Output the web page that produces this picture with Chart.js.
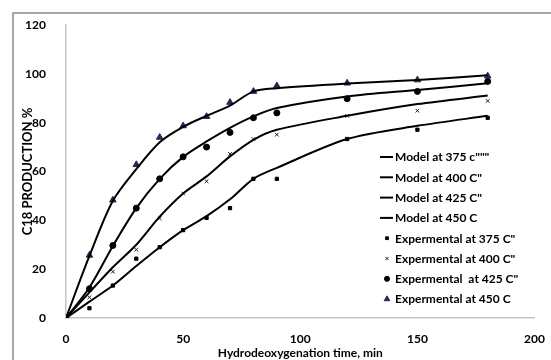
<!DOCTYPE html>
<html>
<head>
<meta charset="utf-8">
<title>C18 production</title>
<script src="https://cdn.jsdelivr.net/npm/chart.js"></script>
<style>
  html, body { margin: 0; padding: 0; background: #fff; }
  #wrap { width: 551px; height: 360px; position: relative; }
</style>
</head>
<body>
<div id="wrap"><canvas id="chart" width="551" height="360"></canvas></div>
<script>
// hydrodeoxygenation time, min
const times = [0, 10, 20, 30, 40, 50, 60, 70, 80, 90, 120, 150, 180];

// model curves
const model375 = [0, 6.7, 13.3, 21.3, 29, 36, 41.7, 48.6, 57, 61.5, 73.3, 78.7, 82.8];
const model400 = [0, 10.5, 20.8, 30, 41.5, 51, 58, 66.2, 73, 77.1, 82.8, 87.6, 91.1];
const model425 = [0, 12.5, 29.5, 45, 57, 66, 72.3, 77.9, 82.6, 86, 90.7, 93.4, 96.1];
const model450 = [0, 25.4, 48, 61, 72, 78.3, 82.8, 87, 92.8, 94.1, 96, 97.5, 99.4];

// experimental points
const exp375 = [0, 4, 13.3, 24.3, 29, 36, 41, 45, 57, 57, 73.3, 77.1, 82];
const exp400 = [0, 8.5, 19, 28, 40.8, 51, 56, 67.2, 73.3, 75.1, 82.8, 84.9, 88.9];
const exp425 = [0, 12, 29.7, 45, 57, 66, 70, 76, 82, 84, 89.8, 92.8, 96.9];
const exp450 = [0, 25.7, 48.3, 62.8, 74, 78.7, 82.5, 88.3, 92.8, 95.1, 96.2, 97.5, 99.1];

const modelLabels = ['Model at 375 c"""', 'Model at 400 C"', 'Model at 425 C"', 'Model at 450 C'];
const expLabels = ['Expermental at 375 C"', 'Expermental at 400 C"', 'Expermental  at 425 C"', 'Expermental at 450 C'];

const FONT = "Lato, 'Open Sans', sans-serif";
const toXY = arr => arr.map((v, i) => ({ x: times[i], y: v }));

const lineSet = (label, arr) => ({
  label, data: toXY(arr), showLine: true,
  borderColor: '#000', borderWidth: 2, pointRadius: 0, tension: 0.3, fill: false
});
const pointSet = (label, arr, style, radius, color, bw) => ({
  label, data: toXY(arr), showLine: false,
  pointStyle: style, pointRadius: radius, pointBorderWidth: bw,
  backgroundColor: color, borderColor: color
});

const datasets = [
  lineSet(modelLabels[0], model375),
  lineSet(modelLabels[1], model400),
  lineSet(modelLabels[2], model425),
  lineSet(modelLabels[3], model450),
  pointSet(expLabels[0], exp375, 'rect', 2.3, '#000', 1),
  pointSet(expLabels[1], exp400, 'crossRot', 2.6, '#222', 1),
  pointSet(expLabels[2], exp425, 'circle', 3, '#000', 1),
  pointSet(expLabels[3], exp450, 'triangle', 3.8, '#1f2a55', 1)
];

// outer frame + legend drawn inside the plot
const framePlugin = {
  id: 'frame',
  beforeDraw(chart) {
    const ctx = chart.ctx;
    ctx.save();
    ctx.fillStyle = '#fff';
    ctx.fillRect(0, 0, chart.width, chart.height);
    ctx.strokeStyle = '#8a8a8a';
    ctx.lineWidth = 1.5;
    ctx.strokeRect(13, 13, 700, 500);
    ctx.restore();
  }
};

const legendPlugin = {
  id: 'insideLegend',
  afterDraw(chart) {
    const ctx = chart.ctx;
    ctx.save();
    ctx.font = 'bold 12px ' + FONT;
    ctx.textBaseline = 'middle';
    ctx.textAlign = 'left';
    chart.data.datasets.forEach((ds, i) => {
      const y = 157 + i * 20.3;
      if (ds.showLine) {
        ctx.strokeStyle = '#000';
        ctx.lineWidth = 2;
        ctx.beginPath();
        ctx.moveTo(380, y);
        ctx.lineTo(393, y);
        ctx.stroke();
      } else {
        ctx.fillStyle = ds.backgroundColor;
        ctx.strokeStyle = ds.borderColor;
        ctx.lineWidth = ds.pointBorderWidth;
        Chart.helpers.drawPoint(ctx, {
          pointStyle: ds.pointStyle, radius: ds.pointRadius * 0.85,
          borderWidth: ds.pointBorderWidth, rotation: 0
        }, 387, y);
      }
      ctx.fillStyle = '#000';
      ctx.fillText(ds.label, 395, y + 0.5);
    });
    ctx.restore();
  }
};

new Chart(document.getElementById('chart'), {
  type: 'scatter',
  data: { datasets },
  plugins: [framePlugin, legendPlugin],
  options: {
    responsive: false,
    animation: false,
    layout: { padding: { left: 0, right: 4, top: 25, bottom: 0 } },
    plugins: { legend: { display: false }, tooltip: { enabled: false } },
    scales: {
      x: {
        type: 'linear', min: 0, max: 200,
        ticks: { stepSize: 50, padding: 6, color: '#000', font: { family: FONT, size: 12, weight: 'bold' } },
        grid: { display: false },
        border: { display: true, color: '#c4c4c4', width: 1.5 },
        title: { display: true, text: 'Hydrodeoxygenation time, min', color: '#000',
                 padding: { top: 0, bottom: 0 }, font: { family: FONT, size: 12, weight: 'bold' } },
        afterFit(scale) { scale.height = 42; }
      },
      y: {
        type: 'linear', min: 0, max: 120,
        ticks: { stepSize: 20, padding: 12, color: '#000', font: { family: FONT, size: 12, weight: 'bold' } },
        grid: { display: false },
        border: { display: true, color: '#c4c4c4', width: 1.5 },
        title: { display: true, text: 'C18 PRODUCTION %', color: '#000',
                 padding: { top: 20, bottom: 0 }, font: { family: FONT, size: 13, weight: 'bold' } },
        afterFit(scale) { scale.width = 66; }
      }
    }
  }
});
</script>
</body>
</html>
